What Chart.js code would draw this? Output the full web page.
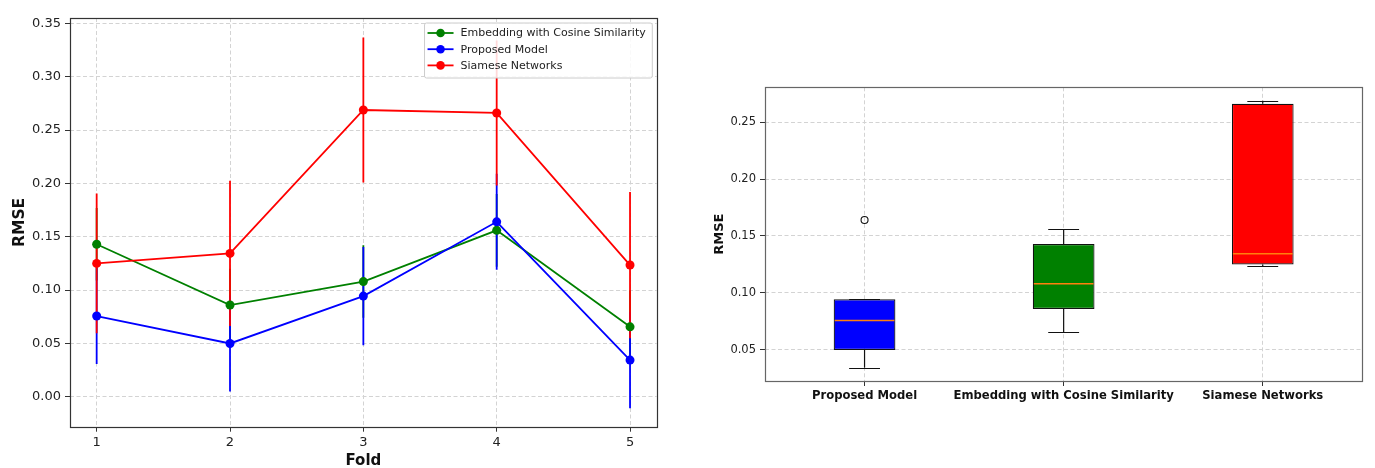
<!DOCTYPE html>
<html>
<head>
<meta charset="utf-8" />
<script src="https://cdn.jsdelivr.net/npm/chart.js"></script>
<style>
  body { margin: 0; background: #fff; }
  #foldChart { position: absolute; left: 0; top: 0; }
  #boxChart { position: absolute; left: 685px; top: 0; }
</style>
</head>
<body>
<canvas id="foldChart" width="680" height="468"></canvas>
<canvas id="boxChart" width="690" height="468"></canvas>
<script>
// per-fold RMSE with std-dev error bars
const folds = [1, 2, 3, 4, 5];
const rmseTicks = [0, 0.05, 0.1, 0.15, 0.2, 0.25, 0.3, 0.35];
const boxTicks = [0.05, 0.1, 0.15, 0.2, 0.25];

const embeddingRmse = [0.143, 0.086, 0.108, 0.156, 0.0656];
const embeddingErr = [0.034, 0.034, 0.034, 0.034, 0.034];
const proposedRmse = [0.0757, 0.050, 0.0944, 0.164, 0.0344];
const proposedErr = [0.045, 0.045, 0.046, 0.045, 0.045];
const siameseRmse = [0.125, 0.1344, 0.2688, 0.266, 0.1235];
const siameseErr = [0.0655, 0.068, 0.068, 0.068, 0.0685];

const models = ["Proposed Model", "Embedding with Cosine Similarity", "Siamese Networks"];
const modelColors = ["#0000ff", "#008000", "#ff0000"];

const FONT = "'DejaVu Sans', sans-serif";
Chart.defaults.font.family = FONT;
Chart.defaults.color = "#222";
Chart.defaults.animation = false;

const gridStyle = { color: "#d3d3d3", tickColor: "#333", tickLength: 5, tickBorderDash: [] };
const dashed = { display: false, dash: [4, 2.5] };

// numpy-style linear quantile
function quantile(vals, q) {
  const s = [...vals].sort((a, b) => a - b);
  const pos = (s.length - 1) * q;
  const lo = Math.floor(pos), hi = Math.ceil(pos);
  return s[lo] + (s[hi] - s[lo]) * (pos - lo);
}

function boxStats(vals) {
  const q1 = quantile(vals, 0.25), med = quantile(vals, 0.5), q3 = quantile(vals, 0.75);
  const iqr = q3 - q1;
  const inside = vals.filter(v => v >= q1 - 1.5 * iqr && v <= q3 + 1.5 * iqr);
  return {
    q1, med, q3,
    lo: Math.min(...inside),
    hi: Math.max(...inside),
    outliers: vals.filter(v => !inside.includes(v)),
  };
}

// ---------- left: RMSE per fold ----------
const lineSeries = [
  { label: "Embedding with Cosine Similarity", vals: embeddingRmse, err: embeddingErr, color: "#008000" },
  { label: "Proposed Model", vals: proposedRmse, err: proposedErr, color: "#0000ff" },
  { label: "Siamese Networks", vals: siameseRmse, err: siameseErr, color: "#ff0000" },
];

const errorBars = {
  id: "errorBars",
  beforeDatasetsDraw(chart) {
    const { ctx, chartArea: a, scales: { x, y } } = chart;
    ctx.save();
    ctx.beginPath();
    ctx.rect(a.left, a.top, a.right - a.left, a.bottom - a.top);
    ctx.clip();
    ctx.lineWidth = 1.8;
    chart.data.datasets.forEach(ds => {
      ctx.strokeStyle = ds.borderColor;
      ds.data.forEach((pt, i) => {
        const px = x.getPixelForValue(pt.x);
        ctx.beginPath();
        ctx.moveTo(px, y.getPixelForValue(pt.y - ds.errors[i]));
        ctx.lineTo(px, y.getPixelForValue(pt.y + ds.errors[i]));
        ctx.stroke();
      });
    });
    ctx.restore();
  },
};

const frame = color => ({
  id: "frame",
  afterDatasetsDraw(chart) {
    const { ctx, chartArea: a } = chart;
    ctx.save();
    ctx.strokeStyle = color;
    ctx.lineWidth = 1.2;
    ctx.strokeRect(Math.round(a.left) + 0.5, Math.round(a.top) + 0.5,
      Math.round(a.right - a.left), Math.round(a.bottom - a.top));
    ctx.restore();
  },
});

const innerLegend = {
  id: "innerLegend",
  afterDraw(chart) {
    const { ctx, chartArea: a } = chart;
    ctx.save();
    ctx.font = "11px " + FONT;
    const textW = Math.max(...lineSeries.map(s => ctx.measureText(s.label).width));
    const w = 36 + textW + 6.6, h = 55;
    const right = a.right - 4.4, top = a.top + 5, left = right - w;
    ctx.beginPath();
    ctx.roundRect(left, top, w, h, 2);
    ctx.fillStyle = "rgba(255,255,255,0.85)";
    ctx.fill();
    ctx.strokeStyle = "#cccccc";
    ctx.lineWidth = 1;
    ctx.stroke();
    lineSeries.forEach((s, i) => {
      const cy = top + 10 + i * 16.2;
      ctx.strokeStyle = s.color;
      ctx.lineWidth = 1.8;
      ctx.beginPath();
      ctx.moveTo(left + 3, cy);
      ctx.lineTo(left + 29, cy);
      ctx.stroke();
      ctx.fillStyle = s.color;
      ctx.beginPath();
      ctx.arc(left + 16, cy, 4.3, 0, Math.PI * 2);
      ctx.fill();
      ctx.fillStyle = "#222";
      ctx.textBaseline = "middle";
      ctx.fillText(s.label, left + 36, cy + 0.5);
    });
    ctx.restore();
  },
};

new Chart(document.getElementById("foldChart"), {
  type: "line",
  data: {
    datasets: lineSeries.map((s, i) => ({
      label: s.label,
      data: folds.map((f, j) => ({ x: f, y: s.vals[j] })),
      errors: s.err,
      borderColor: s.color,
      backgroundColor: s.color,
      borderWidth: 1.8,
      pointRadius: 4.5,
      pointHoverRadius: 4.5,
      pointBorderWidth: 0,
      tension: 0,
      order: lineSeries.length - i,
    })),
  },
  options: {
    responsive: false,
    devicePixelRatio: 1,
    layout: { padding: { top: 18, right: 23.3, left: 0, bottom: 0 } },
    plugins: { legend: { display: false }, tooltip: { enabled: false } },
    scales: {
      x: {
        type: "linear",
        min: 0.8,
        max: 5.2,
        afterBuildTicks: s => { s.ticks = folds.map(v => ({ value: v })); },
        afterFit: s => { s.height = 41.3; },
        grid: gridStyle,
        border: dashed,
        ticks: { font: { size: 13 }, padding: 3, autoSkip: false, maxRotation: 0 },
        title: { display: true, text: "Fold", font: { size: 15, weight: "bold", lineHeight: 1 }, padding: { top: 0, bottom: -0.5 }, color: "#111" },
      },
      y: {
        min: -0.028,
        max: 0.355,
        afterBuildTicks: s => { s.ticks = rmseTicks.map(v => ({ value: v })); },
        afterFit: s => { s.width = 70; },
        grid: gridStyle,
        border: dashed,
        ticks: { font: { size: 13 }, padding: 4, callback: v => v.toFixed(2) },
        title: { display: true, text: "RMSE", font: { size: 15.5, weight: "bold" }, padding: { top: 11 }, color: "#111" },
      },
    },
  },
  plugins: [errorBars, frame("#333"), innerLegend],
});

// ---------- right: RMSE distribution over folds ----------
const boxData = [proposedRmse, embeddingRmse, siameseRmse].map(boxStats);

const boxParts = {
  id: "boxParts",
  beforeDatasetsDraw(chart) {
    const { ctx, scales: { x, y } } = chart;
    ctx.save();
    ctx.strokeStyle = "#111";
    ctx.lineWidth = 1.2;
    boxData.forEach((b, i) => {
      const px = x.getPixelForValue(i);
      ctx.beginPath();
      ctx.moveTo(px, y.getPixelForValue(b.q3));
      ctx.lineTo(px, y.getPixelForValue(b.hi));
      ctx.moveTo(px, y.getPixelForValue(b.q1));
      ctx.lineTo(px, y.getPixelForValue(b.lo));
      ctx.stroke();
    });
    ctx.restore();
  },
  afterDatasetsDraw(chart) {
    const { ctx, scales: { x, y } } = chart;
    const bars = chart.getDatasetMeta(0).data;
    ctx.save();
    boxData.forEach((b, i) => {
      const px = x.getPixelForValue(i);
      const half = bars[i].width / 2;
      ctx.strokeStyle = "#111";
      ctx.lineWidth = 1.2;
      ctx.beginPath();
      [b.hi, b.lo].forEach(v => {
        const py = Math.round(y.getPixelForValue(v)) + 0.5;
        ctx.moveTo(px - half / 2, py);
        ctx.lineTo(px + half / 2, py);
      });
      ctx.stroke();
      ctx.strokeStyle = "#ff7f0e";
      ctx.lineWidth = 1.5;
      ctx.beginPath();
      const my = y.getPixelForValue(b.med);
      ctx.moveTo(px - half + 1, my);
      ctx.lineTo(px + half - 1, my);
      ctx.stroke();
    });
    ctx.restore();
  },
};

new Chart(document.getElementById("boxChart"), {
  type: "bar",
  data: {
    labels: models,
    datasets: [
      {
        label: "IQR",
        data: boxData.map(b => [b.q1, b.q3]),
        backgroundColor: modelColors,
        borderColor: "#111",
        borderWidth: 1.2,
        borderSkipped: false,
        barPercentage: 0.31,
        categoryPercentage: 1,
      },
      {
        type: "line",
        label: "outliers",
        data: boxData.flatMap((b, i) => b.outliers.map(v => ({ x: models[i], y: v }))),
        showLine: false,
        pointRadius: 3.5,
        pointHoverRadius: 3.5,
        pointBorderWidth: 1.1,
        pointBorderColor: "#111",
        pointBackgroundColor: "rgba(0,0,0,0)",
      },
    ],
  },
  options: {
    responsive: false,
    devicePixelRatio: 1,
    layout: { padding: { top: 87.3, right: 12.7, left: 0, bottom: 0 } },
    plugins: { legend: { display: false }, tooltip: { enabled: false } },
    scales: {
      x: {
        afterFit: s => { s.height = 87; },
        grid: { ...gridStyle, offset: false },
        border: dashed,
        ticks: { font: { size: 11.6, weight: "bold" }, color: "#111", padding: 3, autoSkip: false, maxRotation: 0 },
      },
      y: {
        min: 0.0227,
        max: 0.2805,
        afterBuildTicks: s => { s.ticks = boxTicks.map(v => ({ value: v })); },
        afterFit: s => { s.width = 80; },
        grid: gridStyle,
        border: dashed,
        ticks: { font: { size: 11.5 }, padding: 4, callback: v => v.toFixed(2) },
        title: { display: true, text: "RMSE", font: { size: 13, weight: "bold" }, padding: { top: 27 }, color: "#111" },
      },
    },
  },
  plugins: [boxParts, frame("#666")],
});
</script>
</body>
</html>
